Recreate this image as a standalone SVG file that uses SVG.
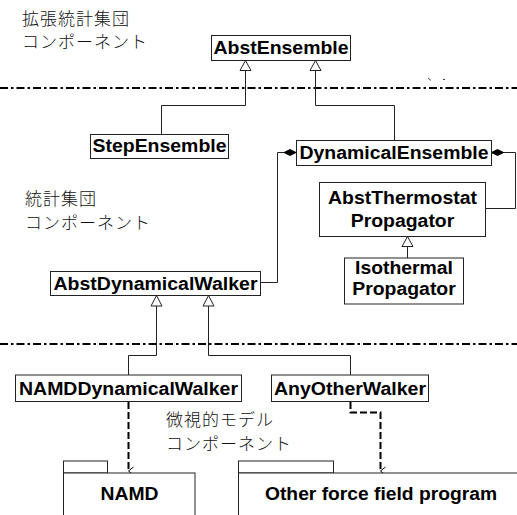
<svg xmlns="http://www.w3.org/2000/svg" width="517" height="515" viewBox="0 0 517 515">
<style>
.box{fill:#fff;stroke:#222;stroke-width:1}
.lbl{font-family:"Liberation Sans",Arial,sans-serif;font-weight:bold;font-size:18px;fill:#000;text-anchor:middle}
.jp{font-family:"Noto Sans CJK JP","Noto Sans CJK SC",sans-serif;font-weight:300;font-size:17px;letter-spacing:1px;fill:#111}
.ln{fill:none;stroke:#222;stroke-width:1}
.sep{fill:none;stroke:#000;stroke-width:2;stroke-dasharray:8 3 2.5 3}
.dep{fill:none;stroke:#000;stroke-width:2;stroke-dasharray:7 3}
.tri{fill:#fff;stroke:#222;stroke-width:1}
.dia{fill:#000;stroke:#000;stroke-width:1}
</style>
<defs>
<marker id="open" markerWidth="10" markerHeight="10" refX="5" refY="8" orient="auto" markerUnits="userSpaceOnUse" viewBox="0 0 10 10">
<path d="M1,3 L5,8 L9,3" fill="none" stroke="#000" stroke-width="1"/>
</marker>
</defs>

<g id="layer-labels">
<text class="jp" x="22" y="25">拡張統計集団<tspan x="22" dy="23">コンポーネント</tspan></text>
<text class="jp" x="25" y="205">統計集団<tspan x="25" dy="24">コンポーネント</tspan></text>
<text class="jp" x="166" y="426">微視的モデル<tspan x="166" dy="24">コンポーネント</tspan></text>
</g>

<g id="separators">
<line class="sep" x1="0" y1="88" x2="517" y2="88"/>
<line class="sep" x1="0" y1="344" x2="517" y2="344"/>
<path d="M428,78 L431,80.5 M443,79.5 L445,79.5" stroke="#444" stroke-width="1" fill="none"/>
</g>

<g id="connectors">
<path class="ln" d="M245.5,70.5 V105.5 H161.5 V134.5"/>
<path class="ln" d="M315.5,70.5 V105.5 H394.5 V140.5"/>
<path class="ln" d="M284,152.5 H277.5 V282.5 H260.5"/>
<path class="ln" d="M503,152.5 H515.5 V208.5 H485.5"/>
<path class="ln" d="M407.5,246.5 V258"/>
<path class="ln" d="M156.5,306 V355.5 H128.5 V375"/>
<path class="ln" d="M208.5,306 V355.5 H350.5 V375"/>
<path class="dep" d="M128.5,402 V471" marker-end="url(#open)"/>
<path class="dep" d="M350.5,402 V412.5 H380.5 V471" marker-end="url(#open)"/>
<polygon class="tri" points="245.5,60.5 240,70.5 251,70.5"/>
<polygon class="tri" points="315.5,60.5 310,70.5 321,70.5"/>
<polygon class="tri" points="407.5,236.5 402,246.5 413,246.5"/>
<polygon class="tri" points="156.5,295.5 151,306 162,306"/>
<polygon class="tri" points="208.5,295.5 203,306 214,306"/>
<polygon class="dia" points="284,152.5 290,149.5 296,152.5 290,155.5"/>
<polygon class="dia" points="491.5,152.5 497.5,149.5 503.5,152.5 497.5,155.5"/>
</g>

<g id="AbstEnsemble">
<rect class="box" x="211.5" y="35.5" width="139" height="25"/>
<text class="lbl" x="281" y="53.5" textLength="135" lengthAdjust="spacingAndGlyphs">AbstEnsemble</text>
</g>

<g id="StepEnsemble">
<rect class="box" x="90.5" y="134.5" width="138" height="24"/>
<text class="lbl" x="159.5" y="152" textLength="134" lengthAdjust="spacingAndGlyphs">StepEnsemble</text>
</g>

<g id="DynamicalEnsemble">
<rect class="box" x="296.5" y="140.5" width="195" height="25"/>
<text class="lbl" x="394" y="158.5" textLength="189" lengthAdjust="spacingAndGlyphs">DynamicalEnsemble</text>
</g>

<g id="AbstThermostatPropagator">
<rect class="box" x="319.5" y="182.5" width="166" height="54"/>
<text class="lbl" x="402.5" y="204" textLength="149" lengthAdjust="spacingAndGlyphs">AbstThermostat</text>
<text class="lbl" x="402.5" y="227" textLength="103.5" lengthAdjust="spacingAndGlyphs">Propagator</text>
</g>

<g id="IsothermalPropagator">
<rect class="box" x="344.5" y="258" width="119" height="46"/>
<text class="lbl" x="404" y="274" textLength="98" lengthAdjust="spacingAndGlyphs">Isothermal</text>
<text class="lbl" x="404" y="295" textLength="103.5" lengthAdjust="spacingAndGlyphs">Propagator</text>
</g>

<g id="AbstDynamicalWalker">
<rect class="box" x="50.5" y="271.5" width="210" height="24"/>
<text class="lbl" x="155.5" y="289.5" textLength="204" lengthAdjust="spacingAndGlyphs">AbstDynamicalWalker</text>
</g>

<g id="NAMDDynamicalWalker">
<rect class="box" x="15.5" y="375" width="226" height="26.5"/>
<text class="lbl" x="128.5" y="394.5" textLength="219" lengthAdjust="spacingAndGlyphs">NAMDDynamicalWalker</text>
</g>

<g id="AnyOtherWalker">
<rect class="box" x="271.5" y="375" width="157" height="26.5"/>
<text class="lbl" x="350" y="394.5" textLength="152" lengthAdjust="spacingAndGlyphs">AnyOtherWalker</text>
</g>

<g id="NAMD">
<rect class="box" x="63.5" y="461" width="44" height="12"/>
<rect class="box" x="63.5" y="473" width="131.5" height="50"/>
<text class="lbl" x="129.5" y="500" textLength="58" lengthAdjust="spacingAndGlyphs">NAMD</text>
</g>

<g id="OtherForceFieldProgram">
<rect class="box" x="238.5" y="461" width="95" height="12"/>
<rect class="box" x="238.5" y="473" width="300" height="50"/>
<text class="lbl" x="381" y="500" textLength="232" lengthAdjust="spacingAndGlyphs">Other force field program</text>
</g>
</svg>
